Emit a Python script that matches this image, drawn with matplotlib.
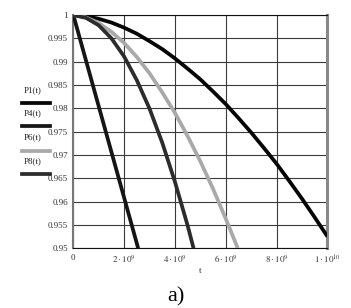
import matplotlib
matplotlib.use("Agg")
import matplotlib.pyplot as plt
from matplotlib.lines import Line2D

plt.rcParams["font.family"] = ["Liberation Serif", "DejaVu Serif"]
plt.rcParams["mathtext.fontset"] = "stix"

# values (t in seconds, P dimensionless)
t_p4 = [0, 0.5e9, 1.0e9, 1.5e9, 2.0e9, 2.55e9]
p_p4 = [1.0, 0.9902, 0.9804, 0.9706, 0.9608, 0.95]

t_p8 = [0, 0.5e9, 1.0e9, 1.5e9, 2.0e9, 2.5e9, 3.0e9, 3.5e9, 4.0e9, 4.5e9, 4.73e9]
p_p8 = [1.0, 0.9994, 0.9978, 0.995, 0.9911, 0.986, 0.9799, 0.9726, 0.9642, 0.9548, 0.95]

t_p6 = [0, 0.5e9, 1.0e9, 1.5e9, 2.0e9, 2.5e9, 3.0e9, 3.5e9, 4.0e9, 4.5e9,
        5.0e9, 5.5e9, 6.0e9, 6.47e9]
p_p6 = [1.0, 0.9995, 0.9983, 0.9964, 0.994, 0.991, 0.9875, 0.9834, 0.979, 0.974,
        0.9686, 0.9627, 0.9563, 0.95]

t_p1 = [0, 0.5e9, 1.0e9, 1.5e9, 2.0e9, 2.5e9, 3.0e9, 3.5e9, 4.0e9, 4.5e9, 5.0e9,
        5.5e9, 6.0e9, 6.5e9, 7.0e9, 7.5e9, 8.0e9, 8.5e9, 9.0e9, 9.5e9, 1.0e10]
p_p1 = [1.0, 0.9998, 0.9992, 0.9984, 0.9973, 0.996, 0.9944, 0.9927, 0.9907, 0.9885,
        0.9862, 0.9836, 0.9809, 0.9779, 0.9748, 0.9715, 0.9681, 0.9644, 0.9606,
        0.9566, 0.9525]

x_ticks = [0, 2e9, 4e9, 6e9, 8e9, 1e10]
x_labels = ["0", r"$2\cdot10^{9}$", r"$4\cdot10^{9}$", r"$6\cdot10^{9}$",
            r"$8\cdot10^{9}$", r"$1\cdot10^{10}$"]
y_ticks = [1.0, 0.995, 0.99, 0.985, 0.98, 0.975, 0.97, 0.965, 0.96, 0.955, 0.95]
y_labels = ["1", "0.995", "0.99", "0.985", "0.98", "0.975", "0.97", "0.965",
            "0.96", "0.955", "0.95"]

names = ["P1(t)", "P4(t)", "P6(t)", "P8(t)"]
colors = ["#050505", "#151515", "#a9a9a9", "#2c2c2c"]

fig = plt.figure(figsize=(3.51, 3.08), dpi=100)
ax = fig.add_axes([0.209, 0.194, 0.724, 0.757])

for t, p, c in zip([t_p1, t_p4, t_p6, t_p8], [p_p1, p_p4, p_p6, p_p8], colors):
    ax.plot(t, p, color=c, lw=2.7, solid_capstyle="butt", solid_joinstyle="round",
            zorder=3)

ax.set_xlim(0, 1e10)
ax.set_ylim(0.95, 1.0)
ax.set_xticks(x_ticks)
ax.set_xticklabels(x_labels, fontsize=6.5, color="#333")
ax.set_yticks(y_ticks)
ax.set_yticklabels(y_labels, fontsize=6.5, color="#333")
ax.tick_params(length=0, pad=4)
ax.grid(True, color="#3a3a3a", lw=0.8)
ax.set_axisbelow(True)

ax.spines["left"].set_color("#777")
ax.spines["left"].set_linewidth(1.5)
ax.spines["right"].set_color("#888")
ax.spines["right"].set_linewidth(2.2)
ax.spines["top"].set_color("#111")
ax.spines["bottom"].set_color("#111")

ax.set_xlabel("t", fontsize=6.5, color="#333", labelpad=1)

# legend drawn at the left like the original
leg_y = [0.708, 0.632, 0.553, 0.476]
for name, c, y in zip(names, colors, leg_y):
    fig.text(0.094, y, name, fontsize=6.5, color="#222", ha="center", va="center")
    fig.add_artist(Line2D([0.062, 0.143], [y - 0.042, y - 0.042],
                          transform=fig.transFigure, color=c, lw=2.7))

fig.text(0.502, 0.035, "a)", fontsize=16, ha="center", va="center")

fig.savefig("out.png", dpi=100)
